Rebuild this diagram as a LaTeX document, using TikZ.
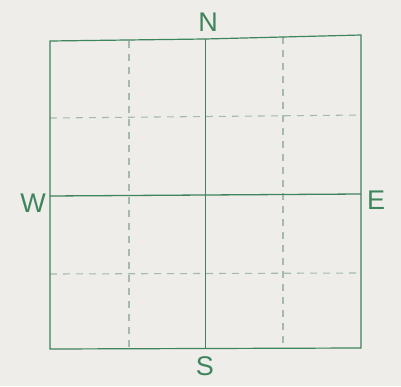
\documentclass[tikz,border=0pt]{standalone}
\usepackage{fontspec}
\setmainfont{Liberation Sans}
\usetikzlibrary{positioning}
\definecolor{gridgreen}{RGB}{62,132,92}
\definecolor{gridgray}{RGB}{165,185,174}
\definecolor{paper}{RGB}{238,237,233}

\begin{document}
\begin{tikzpicture}[x=1pt,y=1pt]
  % paper background fixes the page size
  \fill[paper] (0,0) rectangle (401,386);

  % quarter lines, dashed
  \draw[gridgray, line width=1.1pt, dash pattern=on 7pt off 6pt] (129,345) -- (129,37);
  \draw[gridgray, line width=1.1pt, dash pattern=on 7pt off 6pt] (283,349) -- (283,37);
  \draw[gridgray, line width=1.1pt, dash pattern=on 7pt off 6pt] (50,268) -- (361,271);
  \draw[gridgray, line width=1.1pt, dash pattern=on 7pt off 6pt] (50,112) -- (361,113);

  % outer square, top edge slightly tilted
  \draw[gridgreen, line width=1.2pt] (50,345) -- (205,347) -- (361,351) -- (361,38) -- (50,37) -- cycle;

  % centre cross
  \draw[gridgreen, line width=0.9pt] (205,347) -- (205,37);
  \draw[gridgreen, line width=1.3pt] (50,190) -- (361,192);

  % compass labels
  \node[gridgreen, font=\fontsize{27}{30}\selectfont] (north) at (208,364) {N};
  \node[gridgreen, font=\fontsize{27}{30}\selectfont] (south) at (205,20) {S};
  \node[gridgreen, font=\fontsize{27}{30}\selectfont] (west) at (33,183) {W};
  \node[gridgreen, font=\fontsize{27}{30}\selectfont] (east) at (376,186) {E};
\end{tikzpicture}
\end{document}
